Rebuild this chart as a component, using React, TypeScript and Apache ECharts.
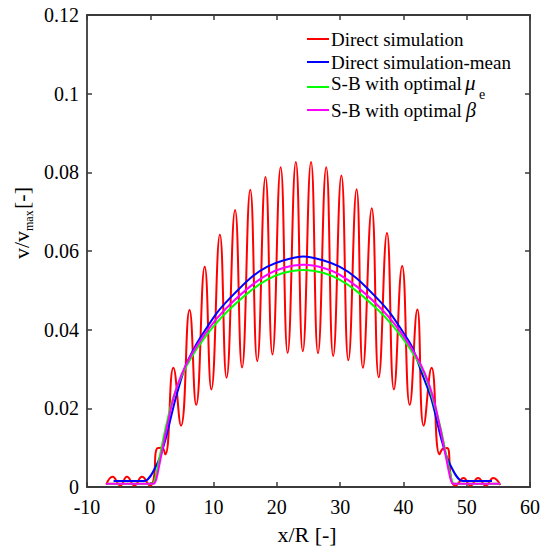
import React, { useEffect, useRef } from "react";
import * as echarts from "echarts";

// x/R ticks and v/vmax ticks
const xMin = -10;
const xMax = 60;
const xStep = 10;
const yMin = 0;
const yMax = 0.12;
const yStep = 0.02;

const seriesNames = [
  "Direct simulation",
  "Direct simulation-mean",
  "S-B with optimal μe",
  "S-B with optimal β",
];
const seriesColors = ["#ff0000", "#0000ff", "#00ff00", "#ff00ff"];

const directSim: [number, number][] = [
  [-6.96, 0.0006], [-5.96, 0.0026], [-4.74, 0.0004], [-3.69, 0.0026], [-2.48, 0.0004],
  [-1.31, 0.0026], [0.0, 0.0004], [0.53, 0.0019], [1.05, 0.0098], [1.84, 0.01],
  [2.37, 0.0083], [3.65, 0.0303], [4.85, 0.0156], [6.2, 0.045], [7.25, 0.0209],
  [8.6, 0.056], [9.65, 0.0248], [11.0, 0.0641], [12.05, 0.0278], [13.4, 0.0704],
  [14.5, 0.0304], [15.8, 0.0756], [16.9, 0.032], [18.2, 0.0788], [19.3, 0.0337],
  [20.6, 0.0813], [21.7, 0.0341], [23.0, 0.0826], [24.1, 0.0345], [25.4, 0.0826],
  [26.5, 0.034], [27.8, 0.0813], [28.9, 0.0333], [30.2, 0.0792], [31.3, 0.0322],
  [32.6, 0.0757], [33.6, 0.0303], [35.0, 0.0709], [36.1, 0.0279], [37.4, 0.0646],
  [38.5, 0.0248], [39.8, 0.0562], [41.0, 0.0209], [42.2, 0.0451], [43.2, 0.0156],
  [44.45, 0.0303], [45.7, 0.0083], [46.3, 0.0098], [46.9, 0.0099], [47.6, 0.0015],
  [48.2, 0.0004], [49.5, 0.0023], [50.6, 0.0004], [51.8, 0.0023], [53.0, 0.0004],
  [54.2, 0.0023], [55.3, 0.0005],
];

const directMean: [number, number][] = [
  [-5.8, 0.0015], [-1.0, 0.0015], [1.2, 0.0063], [2.4, 0.0121], [3.95, 0.0222],
  [5.5, 0.0305], [7.0, 0.0355], [8.4, 0.0392], [10.5, 0.0442], [12.4, 0.0477],
  [15.8, 0.0531], [18.5, 0.056], [21.0, 0.0576], [24.2, 0.0586], [27.4, 0.0576],
  [29.9, 0.056], [32.6, 0.0531], [36.0, 0.0477], [37.9, 0.0442], [40.0, 0.0392],
  [41.4, 0.0355], [42.9, 0.029], [44.45, 0.0222], [46.0, 0.0121], [47.2, 0.0063],
  [49.4, 0.0015], [54.0, 0.0015],
];

const sbMu: [number, number][] = [
  [-7.0, 0.0008], [0.3, 0.0008], [0.75, 0.002], [1.3, 0.0062], [2.4, 0.0148],
  [3.6, 0.0226], [5.0, 0.0284], [6.5, 0.033], [8.5, 0.0378], [10.5, 0.0418],
  [12.4, 0.045], [15.8, 0.0498], [18.5, 0.0527], [21.0, 0.0544], [24.2, 0.0552],
  [27.4, 0.0544], [29.9, 0.0527], [32.6, 0.0498], [36.0, 0.045], [37.9, 0.0418],
  [39.9, 0.0378], [41.9, 0.033], [43.4, 0.0284], [44.6, 0.0226], [45.9, 0.0148],
  [47.0, 0.0062], [47.6, 0.002], [48.0, 0.0008], [55.3, 0.0008],
];

const sbBeta: [number, number][] = [
  [-7.0, 0.0008], [0.5, 0.0008], [0.95, 0.002], [1.6, 0.007], [2.6, 0.015],
  [3.7, 0.0228], [5.0, 0.0288], [6.5, 0.0336], [8.5, 0.0386], [10.5, 0.0428],
  [12.4, 0.0461], [15.8, 0.051], [18.5, 0.054], [21.0, 0.0557], [24.2, 0.0565],
  [27.4, 0.0557], [29.9, 0.054], [32.6, 0.051], [36.0, 0.0461], [37.9, 0.0428],
  [39.9, 0.0386], [41.9, 0.0336], [43.4, 0.0288], [44.7, 0.0228], [45.8, 0.015],
  [46.8, 0.007], [47.45, 0.002], [47.9, 0.0008], [55.3, 0.0008],
];

const seriesData = [directSim, directMean, sbMu, sbBeta];
const seriesSmooth = [0.5, 0.3, 0.3, 0.3];

const SERIF = "'Liberation Serif', 'Times New Roman', serif";
const AXIS_COLOR = "#3a3a3a";

function txt(x: number, y: number, text: string, size: number, italic = false, extra: any = {}) {
  return {
    type: "text",
    x,
    y,
    style: {
      text,
      fontFamily: SERIF,
      fontSize: size,
      fontStyle: italic ? "italic" : "normal",
      fill: "#000",
      verticalAlign: "middle",
      ...extra,
    },
  };
}

export default function App() {
  const ref = useRef<HTMLDivElement>(null);

  useEffect(() => {
    if (!ref.current) return;
    const chart = echarts.init(ref.current, undefined, { renderer: "svg" });

    const axisLine = { show: true, onZero: false, lineStyle: { color: AXIS_COLOR, width: 1.8 } };
    const axisTick = { show: true, inside: true, length: 5, lineStyle: { color: AXIS_COLOR, width: 1.5 } };
    const fmt = (v: number) => String(+v.toFixed(4));

    const legendRowsY = [39, 62, 87, 110];
    const legendGraphics: any[] = [];
    legendRowsY.forEach((y, i) => {
      legendGraphics.push({
        type: "line",
        shape: { x1: 307, y1: y, x2: 329, y2: y },
        style: { stroke: seriesColors[i], lineWidth: 2 },
      });
    });
    legendGraphics.push(
      txt(331, legendRowsY[0], seriesNames[0], 19),
      txt(331, legendRowsY[1], seriesNames[1], 19),
      txt(331, legendRowsY[2] - 4, "S-B with optimal", 19),
      txt(465, legendRowsY[2] - 4, "μ", 21, true),
      txt(479, legendRowsY[2] + 7, "e", 14),
      txt(331, legendRowsY[3], "S-B with optimal", 19),
      txt(466, legendRowsY[3], "β", 20, true)
    );

    chart.setOption({
      animation: false,
      backgroundColor: "#ffffff",
      textStyle: { fontFamily: SERIF },
      grid: { left: 87, right: 17, top: 15, bottom: 60, containLabel: false },
      xAxis: [
        {
          type: "value", position: "bottom", min: xMin, max: xMax, interval: xStep,
          axisLine, axisTick,
          axisLabel: { fontFamily: SERIF, fontSize: 20, color: "#000", margin: 10, formatter: fmt },
          splitLine: { show: false },
        },
        {
          type: "value", position: "top", min: xMin, max: xMax, interval: xStep,
          axisLine, axisTick, axisLabel: { show: false }, splitLine: { show: false },
        },
      ],
      yAxis: [
        {
          type: "value", position: "left", min: yMin, max: yMax, interval: yStep,
          axisLine, axisTick,
          axisLabel: { fontFamily: SERIF, fontSize: 20, color: "#000", margin: 8, formatter: fmt },
          splitLine: { show: false },
        },
        {
          type: "value", position: "right", min: yMin, max: yMax, interval: yStep,
          axisLine, axisTick, axisLabel: { show: false }, splitLine: { show: false },
        },
      ],
      series: seriesData.map((d, i) => ({
        type: "line",
        name: seriesNames[i],
        data: d,
        xAxisIndex: 0,
        yAxisIndex: 0,
        showSymbol: false,
        smooth: seriesSmooth[i],
        lineStyle: { color: seriesColors[i], width: 2 },
        itemStyle: { color: seriesColors[i] },
        z: 2 + i,
      })),
      graphic: [
        ...legendGraphics,
        txt(307, 534, "x/R [-]", 22, false, { align: "center" }),
        {
          type: "group", x: 21, y: 259, rotation: Math.PI / 2,
          children: [
            txt(0, 0, "v/v", 22),
            txt(28, 8, "max", 12),
            txt(50, 0, "[-]", 22),
          ],
        },
      ],
    });

    return () => chart.dispose();
  }, []);

  return <div ref={ref} style={{ width: 547, height: 547, position: "absolute", left: 0, top: 0 }} />;
}
